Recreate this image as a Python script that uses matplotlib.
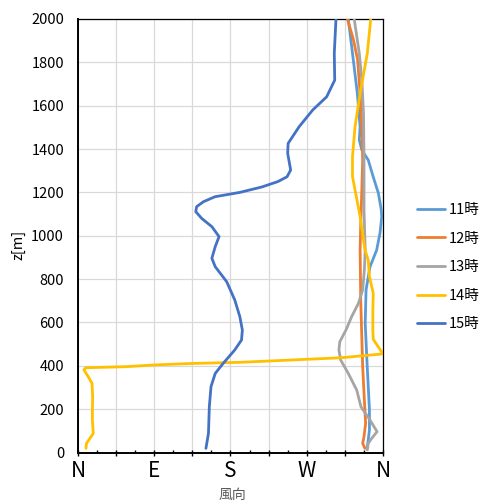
import matplotlib
matplotlib.use("Agg")
import matplotlib.pyplot as plt
import numpy as np

plt.rcParams['font.family'] = ['Noto Sans CJK JP', 'DejaVu Sans']

# ---- data (wind direction in degrees, height z in m) ----
z_11 = [25, 104, 196, 427, 597, 750, 856, 934, 1013, 1087, 1119, 1197, 1271, 1349, 1396, 1442, 1503, 1657, 1842, 2000]
d_11 = [341.5, 344, 344, 341, 339, 340, 344.6, 352.5, 356.5, 358.5, 358, 354.5, 348.5, 342.6, 335, 332, 333, 329.7, 324, 319]

z_12 = [19, 42, 73, 135, 242, 396, 530, 704, 934, 1026, 1211, 1349, 1502, 1657, 1813, 1906, 2000]
d_12 = [338.7, 336, 337.6, 339.5, 338, 336, 335, 333.7, 333, 333.5, 335, 336, 335, 333, 330, 325, 318]

z_13 = [12, 42, 65, 96, 150, 211, 288, 365, 427, 473, 511, 565, 627, 688, 750, 842, 934, 1119, 1350, 1565, 1719, 1842, 2000]
d_13 = [341.5, 342.6, 346.6, 353, 344.6, 334, 329, 319, 310, 308, 309, 316.3, 323, 331, 336, 338, 339, 337.6, 337.6, 337, 335, 332, 326]

z_14 = [19, 42, 88, 150, 196, 257, 319, 350, 381, 391, 396, 404, 411, 416, 430, 437, 455, 522, 565, 650, 734, 811, 888, 934, 1088, 1273, 1365, 1503, 1657, 1842, 2000]
d_14 = [9.4, 10, 18, 17, 17, 17.3, 16.5, 12, 7, 9, 57, 90, 136, 191, 270, 310, 360, 348.5, 348, 348, 348.5, 344, 342.6, 338.8, 333, 324, 324, 327, 333, 341.5, 345.5]

z_15 = [19, 89, 211, 304, 365, 412, 473, 519, 565, 627, 704, 788, 857, 896, 950, 996, 1042, 1080, 1111, 1134, 1157, 1180, 1200, 1225, 1250, 1272, 1303, 1380, 1426, 1503, 1580, 1641, 1718, 1842, 2000]
d_15 = [151, 154, 155, 157, 162, 171.5, 185, 193, 194, 191, 185, 175.5, 162, 158, 162, 166.5, 158, 146, 139, 140, 148, 161.7, 191, 217, 236, 246.7, 251, 247.5, 248, 261, 277, 293.5, 303, 302.5, 304.5]

series = [
    ("11時", d_11, z_11, "#5B9BD5"),
    ("12時", d_12, z_12, "#ED7D31"),
    ("13時", d_13, z_13, "#A5A5A5"),
    ("14時", d_14, z_14, "#FFC000"),
    ("15時", d_15, z_15, "#4472C4"),
]

x_ticks = [0, 45, 90, 135, 180, 225, 270, 315, 360]
x_labels = ["N", "", "E", "", "S", "", "W", "", "N"]
y_ticks = list(range(0, 2001, 200))

W, H = 481, 504
fig = plt.figure(figsize=(W / 100, H / 100), dpi=100)
ax = fig.add_axes([78 / W, 1 - 452.5 / H, (383 - 78) / W, (452.5 - 19) / H])

for name, d, z, c in series:
    ax.plot(d, z, color=c, lw=2.0, label=name, solid_capstyle='round', zorder=3)

ax.set_xlim(0, 360)
ax.set_ylim(0, 2000)
ax.set_xticks(x_ticks)
ax.set_xticklabels(x_labels, fontsize=15, color="black")
ax.set_xticks(np.arange(22.5, 360, 45), minor=True)
ax.set_yticks(y_ticks)
ax.set_yticklabels([str(v) for v in y_ticks], fontsize=10.5, color="black")

ax.tick_params(axis='x', which='major', direction='inout', length=5, width=1, pad=3)
ax.tick_params(axis='x', which='minor', direction='in', length=2.5, width=1)
ax.tick_params(axis='y', which='both', length=0, pad=10)

ax.grid(True, which='major', color='#D9D9D9', lw=0.9, zorder=0)
ax.set_axisbelow(True)

for s in ['left', 'bottom']:
    ax.spines[s].set_linewidth(1.4)
    ax.spines[s].set_color('black')
for s in ['top', 'right']:
    ax.spines[s].set_linewidth(0.9)
    ax.spines[s].set_color('black')

fig.text(18 / W, 1 - 245 / H, "z[m]", rotation=90, ha='center', va='center', fontsize=10.5, color='black')
fig.text(232 / W, 1 - 495 / H, "風向", ha='center', va='center', fontsize=10, color='#595959')

leg = fig.legend(loc='upper left', bbox_to_anchor=(417 / W, 1 - 203 / H), frameon=False,
                 fontsize=10.5, handlelength=1.9, handletextpad=0.25, labelspacing=1.0,
                 borderpad=0, borderaxespad=0)

fig.savefig("out.png", dpi=100)
